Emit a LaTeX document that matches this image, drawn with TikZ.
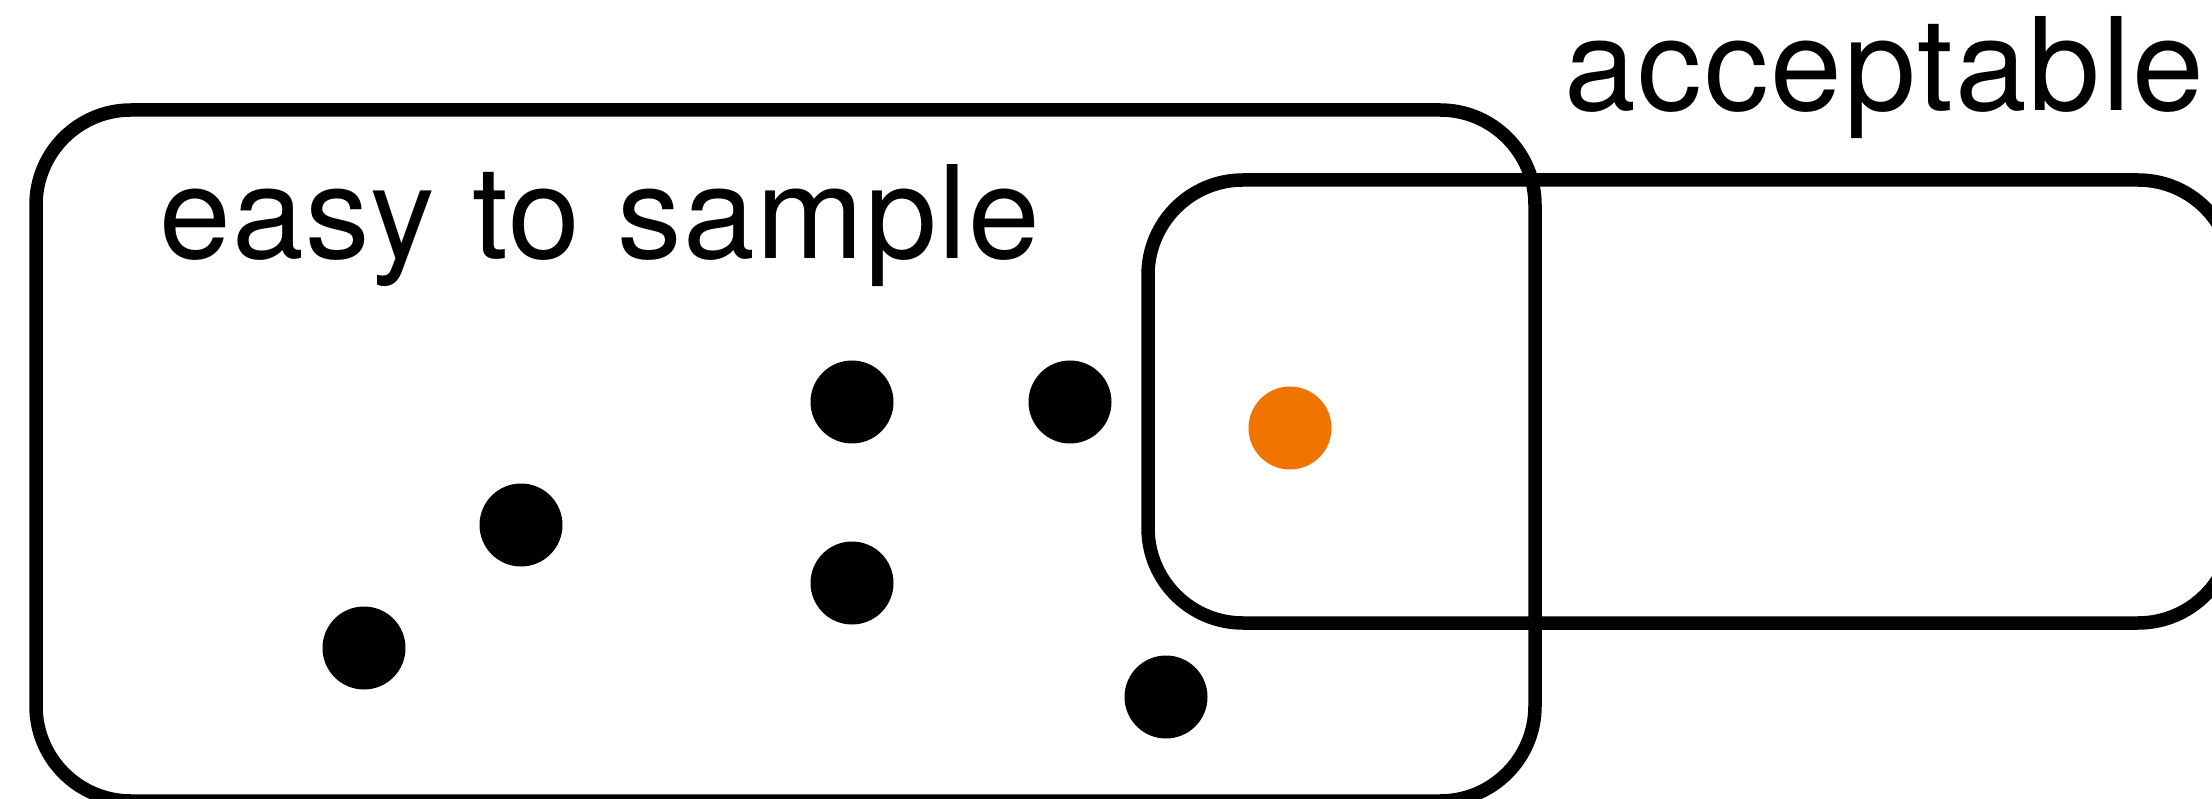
\documentclass[tikz,border=0pt]{standalone}
\usepackage{fontspec}
\setmainfont{TeX Gyre Heros}
\newfontfamily\labelfont[LetterSpace=1.5]{TeX Gyre Heros}
\newfontfamily\longlabelfont[LetterSpace=1.0]{TeX Gyre Heros}
\definecolor{hitorange}{RGB}{240,116,0}
\tikzset{
  region/.style={draw=black, line width=13.5pt, rounded corners=95pt,
    rectangle, inner sep=0pt, outer sep=0pt, anchor=north west},
  sample/.style={circle, fill=black, minimum size=83pt, inner sep=0pt},
  hit/.style={sample, fill=hitorange},
  tag/.style={inner sep=0pt, anchor=base west,
    font=\labelfont\fontsize{129pt}{150pt}\selectfont}
}
\begin{document}
\begin{tikzpicture}[x=1pt, y=-1pt]
  \useasboundingbox (0,0) rectangle (2212,799);
  \clip (0,0) rectangle (2212,799);

  % the two overlapping regions
  \node[region, minimum width=1499pt, minimum height=691pt] (easy) at (36,110) {};
  \node[region, minimum width=1085pt, minimum height=443pt] (ok) at (1148,180) {};

  % region labels
  \node[tag, font=\longlabelfont\fontsize{129pt}{150pt}\selectfont] (easylabel) at (159,259) {easy to sample};
  \node[tag] (oklabel) at (1564,111) {acceptable};

  % drawn samples
  \node[sample] (s1) at (364,648) {};
  \node[sample] (s2) at (521,525) {};
  \node[sample] (s3) at (852,402) {};
  \node[sample] (s4) at (1070,402) {};
  \node[sample] (s5) at (852,583) {};
  \node[sample] (s6) at (1166,697) {};
  \node[hit] (s7) at (1290,428) {};
\end{tikzpicture}
\end{document}
